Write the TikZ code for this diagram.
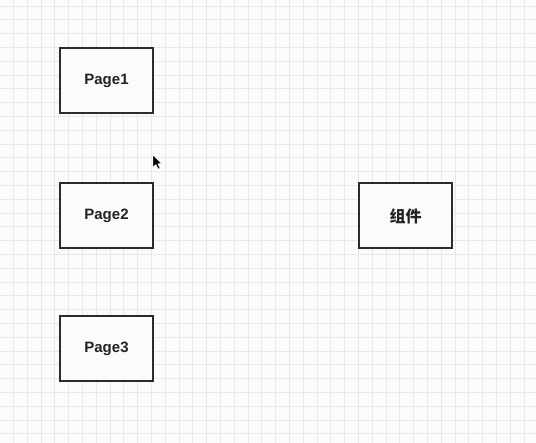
\documentclass[tikz,border=0pt]{standalone}
\usepackage{fontspec}
\setmainfont{Liberation Sans}
\newfontfamily\cjkfont{Noto Sans CJK SC}
\definecolor{bg}{HTML}{FBFBF9}
\definecolor{gridc}{HTML}{E8E8E6}
\definecolor{boxline}{HTML}{2B2B2B}
\definecolor{txt}{HTML}{222222}
\begin{document}
\begin{tikzpicture}[x=1pt,y=-1pt,
  pagebox/.style={draw=boxline,line width=2pt,fill=bg,minimum width=93pt,minimum height=65pt,inner sep=0pt,
    font=\fontsize{15}{17}\selectfont\bfseries,text=txt}]
\fill[bg] (0,0) rectangle (536,443);
\useasboundingbox (0,0) rectangle (536,443);
\foreach \i in {0,...,38} {
  \draw[gridc,line width=0.8pt] ({13.3+13.8*\i},0) -- ({13.3+13.8*\i},443);
}
\foreach \j in {0,...,32} {
  \draw[gridc,line width=0.8pt] (0,{6+13.8*\j}) -- (536,{6+13.8*\j});
}
\node[pagebox] (p1) at (106.5,80.5) {Page1};
\node[pagebox] (p2) at (106.5,216) {Page2};
\node[pagebox] (p3) at (106.5,348.5) {Page3};
\node[pagebox,font=\cjkfont\fontsize{16}{18}\selectfont\bfseries] (comp) at (405.5,216) {组件};
% mouse cursor
\fill[black,draw=white,line width=0.4pt] (153,155) -- (153,167) -- (156,164.5) -- (158.2,169) -- (160,168.2) -- (157.8,163.8) -- (161.5,163.5) -- cycle;
\end{tikzpicture}
\end{document}
